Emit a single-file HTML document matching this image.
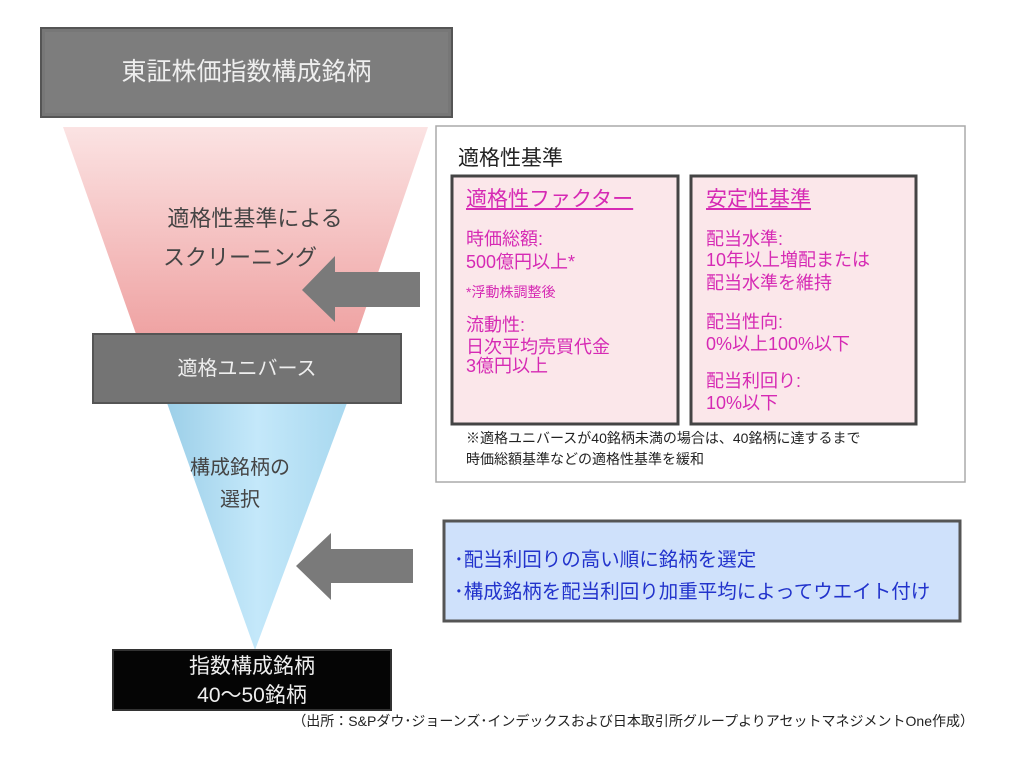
<!DOCTYPE html>
<html><head><meta charset="utf-8"><style>
html,body{margin:0;padding:0;background:#fff;}
body{width:1024px;height:766px;position:relative;overflow:hidden;font-family:"Liberation Sans","Noto Sans CJK JP",sans-serif;}
.a{position:absolute;white-space:nowrap;}
.pk{color:#d62ab4;font-size:18px;line-height:20px;}
</style></head><body>
<svg width="1024" height="766" style="position:absolute;left:0;top:0">
<defs>
<linearGradient id="pg" x1="0" y1="0" x2="0" y2="1"><stop offset="0" stop-color="#fbe3e3"/><stop offset="1" stop-color="#efa3a3"/></linearGradient>
<linearGradient id="bg" x1="0" y1="0" x2="1" y2="0"><stop offset="0" stop-color="#9ccfe8"/><stop offset="0.5" stop-color="#c4e8fa"/><stop offset="1" stop-color="#a8d8ef"/></linearGradient>
</defs>
<rect x="41" y="28" width="411" height="89" fill="#777" stroke="#555" stroke-width="2"/>
<rect x="45" y="32" width="403" height="81" fill="#7d7d7d"/>
<polygon points="63,127 428,127 357,334 136,334" fill="url(#pg)"/>
<polygon points="167,403 347,403 255,650" fill="url(#bg)"/>
<rect x="93" y="334" width="308" height="69" fill="#747474" stroke="#555" stroke-width="2"/>
<rect x="113" y="650" width="278" height="60" fill="#050505" stroke="#333" stroke-width="2"/>
<polygon points="302,290 335,256 335,272 420,272 420,307 335,307 335,322" fill="#7a7a7a"/>
<polygon points="296,566 331,533 331,549 413,549 413,583 331,583 331,600" fill="#7a7a7a"/>
<rect x="436" y="126" width="529" height="356" fill="#fff" stroke="#aaa" stroke-width="1.5"/>
<rect x="452" y="176" width="226" height="248" fill="#fbe7ea" stroke="#444" stroke-width="3"/>
<rect x="691" y="176" width="225" height="248" fill="#fbe7ea" stroke="#444" stroke-width="3"/>
<rect x="444" y="521" width="516" height="100" fill="#cfe1fb" stroke="#555" stroke-width="3"/>
</svg>
<div class="a" style="left:41px;width:411px;top:58px;text-align:center;color:#eee;font-size:25px;line-height:28px">東証株価指数構成銘柄</div>
<div class="a" style="left:135px;width:240px;top:205px;text-align:center;color:#444;font-size:22px;line-height:28px">適格性基準による</div>
<div class="a" style="left:120px;width:240px;top:244px;text-align:center;color:#444;font-size:22px;line-height:28px">スクリーニング</div>
<div class="a" style="left:93px;width:308px;top:356px;text-align:center;color:#eee;font-size:20px;line-height:26px">適格ユニバース</div>
<div class="a" style="left:175px;width:130px;top:452px;text-align:center;color:#444;font-size:20px;line-height:32px">構成銘柄の<br>選択</div>
<div class="a" style="left:113px;width:278px;top:652px;text-align:center;color:#eee;font-size:21px;line-height:29px">指数構成銘柄<br>40～50銘柄</div>
<div class="a" style="left:458px;top:146px;color:#222;font-size:21px;line-height:26px">適格性基準</div>
<div class="a pk" style="left:466px;top:188px;font-size:21px;line-height:24px;text-decoration:underline">適格性ファクター</div>
<div class="a pk" style="left:466px;top:229px">時価総額:</div>
<div class="a pk" style="left:466px;top:252px">500億円以上*</div>
<div class="a pk" style="left:466px;top:282px;font-size:14px">*浮動株調整後</div>
<div class="a pk" style="left:466px;top:315px">流動性:</div>
<div class="a pk" style="left:466px;top:337px">日次平均売買代金</div>
<div class="a pk" style="left:466px;top:356px">3億円以上</div>
<div class="a pk" style="left:706px;top:188px;font-size:21px;line-height:24px;text-decoration:underline">安定性基準</div>
<div class="a pk" style="left:706px;top:229px">配当水準:</div>
<div class="a pk" style="left:706px;top:250px">10年以上増配または</div>
<div class="a pk" style="left:706px;top:273px">配当水準を維持</div>
<div class="a pk" style="left:706px;top:312px">配当性向:</div>
<div class="a pk" style="left:706px;top:334px">0%以上100%以下</div>
<div class="a pk" style="left:706px;top:371px">配当利回り:</div>
<div class="a pk" style="left:706px;top:393px">10%以下</div>
<div class="a" style="left:466px;top:428px;color:#222;font-size:14px;line-height:21px">※適格ユニバースが40銘柄未満の場合は、40銘柄に達するまで<br>時価総額基準などの適格性基準を緩和</div>
<div class="a" style="left:454px;top:544px;color:#2233cc;font-size:19.5px;line-height:32px">･配当利回りの高い順に銘柄を選定<br>･構成銘柄を配当利回り加重平均によってウエイト付け</div>
<div class="a" style="right:50px;top:713px;color:#222;font-size:14px;line-height:17px">（出所：S&amp;Pダウ･ジョーンズ･インデックスおよび日本取引所グループよりアセットマネジメントOne作成）</div>
</body></html>
